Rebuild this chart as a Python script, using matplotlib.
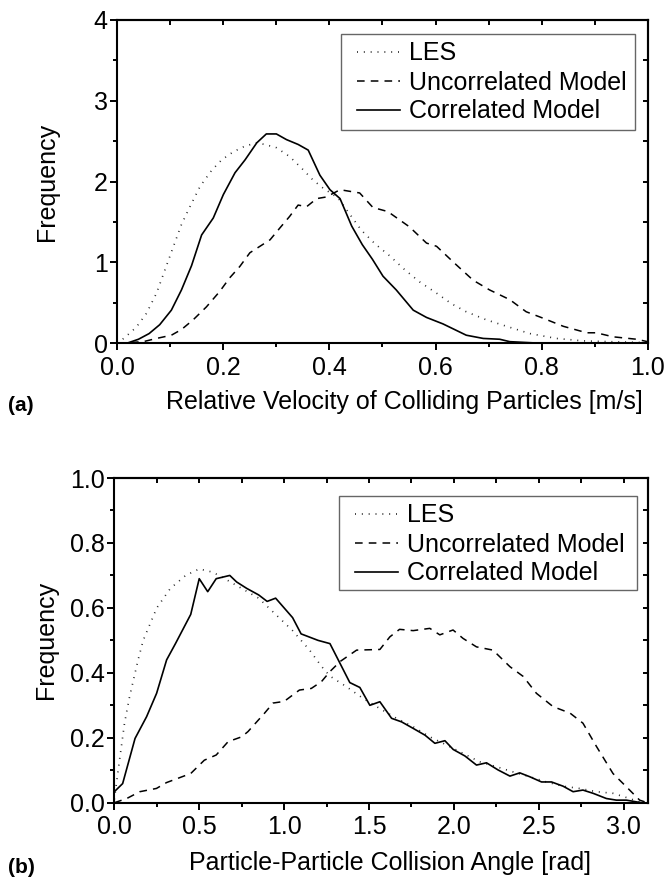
import numpy as np
import matplotlib
matplotlib.use('Agg')
import matplotlib.pyplot as plt
from matplotlib.ticker import MultipleLocator
from matplotlib.patches import Rectangle

plt.rcParams['font.family'] = ['Liberation Sans', 'DejaVu Sans']

labels = ['LES', 'Uncorrelated Model', 'Correlated Model']

# (a) relative velocity of colliding particles
vel_les_x = [0.0, 0.014, 0.036, 0.055, 0.074, 0.09, 0.106, 0.121, 0.137, 0.156, 0.178, 0.197,
             0.219, 0.241, 0.263, 0.278, 0.30, 0.325, 0.35, 0.369, 0.388, 0.416, 0.438, 0.46,
             0.486, 0.514, 0.542, 0.57, 0.602, 0.63, 0.658, 0.696, 0.734, 0.778, 0.828, 0.878,
             0.928, 0.99]
vel_les_y = [0.0, 0.07, 0.20, 0.37, 0.62, 0.91, 1.20, 1.47, 1.69, 1.94, 2.14, 2.27,
             2.37, 2.44, 2.48, 2.46, 2.42, 2.31, 2.15, 2.02, 1.92, 1.80, 1.60, 1.40,
             1.23, 1.08, 0.91, 0.76, 0.62, 0.49, 0.39, 0.29, 0.21, 0.12, 0.06, 0.03,
             0.02, 0.01]

vel_unc_x = [0.0, 0.049, 0.074, 0.102, 0.121, 0.143, 0.168, 0.193, 0.212, 0.231, 0.25, 0.269,
             0.288, 0.307, 0.325, 0.341, 0.357, 0.376, 0.394, 0.42, 0.457, 0.482, 0.51, 0.551,
             0.583, 0.602, 0.636, 0.671, 0.702, 0.74, 0.771, 0.803, 0.841, 0.885, 0.903, 0.935,
             0.979, 1.0]
vel_unc_y = [0.0, 0.02, 0.06, 0.10, 0.17, 0.29, 0.45, 0.64, 0.81, 0.95, 1.12, 1.20,
             1.28, 1.43, 1.57, 1.71, 1.69, 1.79, 1.81, 1.90, 1.86, 1.68, 1.63, 1.44,
             1.24, 1.20, 0.99, 0.78, 0.66, 0.54, 0.39, 0.31, 0.21, 0.13, 0.13, 0.08,
             0.05, 0.02]

vel_cor_x = [0.0, 0.02, 0.04, 0.06, 0.08, 0.102, 0.121, 0.14, 0.159, 0.181, 0.20, 0.222,
             0.241, 0.263, 0.281, 0.30, 0.319, 0.341, 0.36, 0.382, 0.401, 0.42, 0.442, 0.462,
             0.481, 0.501, 0.526, 0.558, 0.583, 0.614, 0.658, 0.69, 0.721, 0.74, 0.80, 1.0]
vel_cor_y = [0.0, 0.005, 0.05, 0.12, 0.23, 0.41, 0.66, 0.96, 1.34, 1.55, 1.84, 2.11,
             2.27, 2.48, 2.59, 2.59, 2.52, 2.46, 2.39, 2.08, 1.90, 1.79, 1.45, 1.22,
             1.04, 0.83, 0.66, 0.41, 0.32, 0.24, 0.10, 0.06, 0.05, 0.02, 0.0, 0.0]

# (b) particle-particle collision angle
ang_les_x = [0.0, 0.02, 0.06, 0.09, 0.14, 0.17, 0.25, 0.33, 0.42, 0.50, 0.58, 0.65,
             0.75, 0.85, 0.95, 1.05, 1.15, 1.22, 1.27, 1.368, 1.466, 1.564, 1.662, 1.76,
             1.858, 1.956, 2.054, 2.152, 2.25, 2.348, 2.447, 2.545, 2.643, 2.74, 2.84, 2.937,
             3.035, 3.104]
ang_les_y = [0.01, 0.09, 0.245, 0.327, 0.44, 0.50, 0.60, 0.66, 0.70, 0.72, 0.71, 0.69,
             0.66, 0.63, 0.58, 0.53, 0.47, 0.42, 0.39, 0.357, 0.321, 0.29, 0.26, 0.234,
             0.203, 0.178, 0.152, 0.126, 0.111, 0.095, 0.08, 0.064, 0.051, 0.044, 0.034, 0.029,
             0.013, 0.0]

ang_unc_x = [0.0, 0.073, 0.15, 0.248, 0.307, 0.45, 0.53, 0.60, 0.67, 0.75, 0.787, 0.885,
             0.935, 1.0, 1.09, 1.16, 1.22, 1.27, 1.33, 1.427, 1.564, 1.623, 1.68, 1.76,
             1.858, 1.917, 1.995, 2.054, 2.133, 2.23, 2.33, 2.408, 2.486, 2.584, 2.684, 2.76,
             2.84, 2.937, 3.016, 3.094, 3.14]
ang_unc_y = [0.0, 0.013, 0.034, 0.044, 0.062, 0.09, 0.131, 0.147, 0.188, 0.203, 0.219, 0.276,
             0.307, 0.312, 0.347, 0.352, 0.373, 0.404, 0.435, 0.47, 0.472, 0.511, 0.534, 0.53,
             0.537, 0.517, 0.532, 0.506, 0.48, 0.47, 0.419, 0.389, 0.337, 0.296, 0.276, 0.245,
             0.173, 0.09, 0.049, 0.008, 0.0]

ang_cor_x = [0.0, 0.049, 0.122, 0.19, 0.249, 0.308, 0.36, 0.40, 0.45, 0.50, 0.55, 0.60,
             0.68, 0.72, 0.78, 0.85, 0.90, 0.95, 1.0, 1.05, 1.10, 1.15, 1.20, 1.27,
             1.387, 1.446, 1.505, 1.564, 1.633, 1.692, 1.76, 1.83, 1.888, 1.947, 1.996, 2.065,
             2.133, 2.192, 2.26, 2.33, 2.388, 2.447, 2.516, 2.575, 2.643, 2.702, 2.76, 2.82,
             2.898, 2.957, 3.016, 3.104]
ang_cor_y = [0.034, 0.059, 0.198, 0.265, 0.337, 0.44, 0.49, 0.53, 0.58, 0.69, 0.65, 0.69,
             0.70, 0.68, 0.66, 0.64, 0.62, 0.63, 0.60, 0.57, 0.52, 0.51, 0.50, 0.49,
             0.37, 0.355, 0.30, 0.311, 0.26, 0.249, 0.229, 0.208, 0.183, 0.191, 0.164, 0.144,
             0.116, 0.123, 0.101, 0.082, 0.092, 0.080, 0.064, 0.064, 0.051, 0.034, 0.039, 0.029,
             0.013, 0.008, 0.008, 0.0]

styles = [dict(ls=(0, (0.6, 3.5)), lw=1.2, color='0.15'),
          dict(ls=(0, (5, 4)), lw=1.1, color='black'),
          dict(ls='-', lw=1.2, color='black')]

FS = 18
W, H = 669, 880

fig = plt.figure(figsize=(6.69, 8.8), dpi=100)
ax1 = fig.add_axes([0.1753, 0.6099, 0.7928, 0.3674])
ax2 = fig.add_axes([0.1709, 0.0878, 0.7973, 0.3690])


def style_axes(ax, xmaj, xmin, ymaj, ymin):
    ax.xaxis.set_major_locator(MultipleLocator(xmaj))
    ax.xaxis.set_minor_locator(MultipleLocator(xmin))
    ax.yaxis.set_major_locator(MultipleLocator(ymaj))
    ax.yaxis.set_minor_locator(MultipleLocator(ymin))
    ax.tick_params(which='both', direction='out', width=1.4, labelsize=FS)
    ax.tick_params(axis='x', pad=4)
    ax.tick_params(axis='y', pad=2)
    ax.tick_params(which='major', length=5)
    ax.tick_params(which='minor', length=3)
    for sp in ax.spines.values():
        sp.set_linewidth(1.5)
    # mirrored ticks pointing inward on top/right
    top = ax.secondary_xaxis('top')
    top.xaxis.set_major_locator(MultipleLocator(xmaj))
    top.xaxis.set_minor_locator(MultipleLocator(xmin))
    top.tick_params(which='both', direction='in', length=3.5, width=1.4, labeltop=False)
    top.spines['top'].set_linewidth(1.5)
    right = ax.secondary_yaxis('right')
    right.yaxis.set_major_locator(MultipleLocator(ymaj))
    right.yaxis.set_minor_locator(MultipleLocator(ymin))
    right.tick_params(which='both', direction='in', length=3.5, width=1.4, labelright=False)
    right.spines['right'].set_linewidth(1.5)


def add_legend(ax, handle_x, top_y, box):
    # legend text without frame, frame drawn separately (box: left, top, right, bottom in px)
    ax.legend(loc='upper left', bbox_to_anchor=(handle_x / W, 1 - top_y / H),
              bbox_transform=fig.transFigure, fontsize=FS, frameon=False,
              handlelength=1.75, handletextpad=0.35, labelspacing=0.2, borderpad=0.3,
              borderaxespad=0)
    l, t, r, b = box
    fig.patches.append(Rectangle((l / W, 1 - b / H), (r - l) / W, (b - t) / H,
                                 transform=fig.transFigure, fill=False,
                                 edgecolor='0.4', linewidth=1.0, zorder=5))


# panel (a)
for xs, ys, st, lab in zip([vel_les_x, vel_unc_x, vel_cor_x],
                           [vel_les_y, vel_unc_y, vel_cor_y], styles, labels):
    ax1.plot(xs, ys, label=lab, **st)
ax1.set_xlim(0, 1.0)
ax1.set_ylim(0, 4)
style_axes(ax1, 0.2, 0.1, 1, 0.5)
ax1.xaxis.set_major_formatter(plt.FormatStrFormatter('%.1f'))
ax1.set_xlabel('Relative Velocity of Colliding Particles [m/s]', fontsize=FS)
ax1.xaxis.set_label_coords(0.542, -0.145)
ax1.set_ylabel('Frequency', fontsize=FS)
ax1.yaxis.set_label_coords(-0.11, 0.5)
add_legend(ax1, 349, 34, (340.7, 34, 635, 130))

# panel (b)
for xs, ys, st, lab in zip([ang_les_x, ang_unc_x, ang_cor_x],
                           [ang_les_y, ang_unc_y, ang_cor_y], styles, labels):
    ax2.plot(xs, ys, label=lab, **st)
ax2.set_xlim(0, np.pi)
ax2.set_ylim(0, 1.0)
style_axes(ax2, 0.5, 0.25, 0.2, 0.1)
ax2.xaxis.set_major_formatter(plt.FormatStrFormatter('%.1f'))
ax2.yaxis.set_major_formatter(plt.FormatStrFormatter('%.1f'))
ax2.set_xlabel('Particle-Particle Collision Angle [rad]', fontsize=FS)
ax2.xaxis.set_label_coords(0.517, -0.15)
ax2.set_ylabel('Frequency', fontsize=FS)
ax2.yaxis.set_label_coords(-0.105, 0.5)
add_legend(ax2, 347, 496, (339.3, 496, 636.7, 590))

fig.text(0.012, 1 - 405 / H, '(a)', fontsize=15, fontweight='bold', va='center')
fig.text(0.012, 1 - 867 / H, '(b)', fontsize=15, fontweight='bold', va='center')

fig.savefig('out.png', dpi=100)
